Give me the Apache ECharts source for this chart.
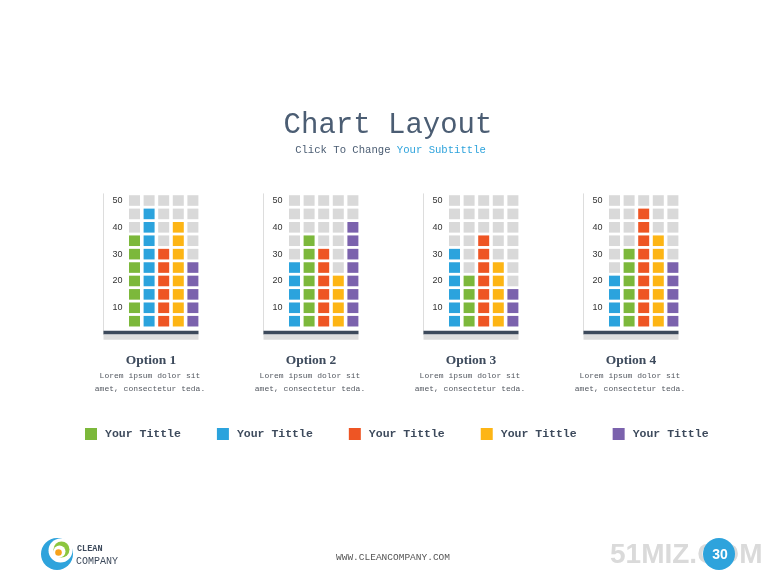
<!DOCTYPE html>
<html>
<head>
<meta charset="utf-8">
<script src="https://cdn.jsdelivr.net/npm/echarts@6/dist/echarts.min.js"></script>
<style>html,body{margin:0;padding:0;background:#fff;}#main{width:780px;height:585px;}</style>
</head>
<body>
<div id="main"></div>
<script>
// ---- data ----
const optionNames = ['Option 1', 'Option 2', 'Option 3', 'Option 4'];
const legendLabels = ['Your Tittle', 'Your Tittle', 'Your Tittle', 'Your Tittle', 'Your Tittle'];
const colorKeys = ['green', 'blue', 'red', 'yellow', 'purple'];
const greenValues = [35, 35, 20, 30];
const blueValues = [45, 25, 30, 20];
const redValues = [30, 30, 35, 45];
const yellowValues = [40, 20, 25, 35];
const purpleValues = [25, 40, 15, 25];
// column order per option (indices into colorKeys)
const columnOrder = [[0, 1, 2, 3, 4], [1, 0, 2, 3, 4], [1, 0, 2, 3, 4], [1, 0, 2, 3, 4]];
const cellStep = 5;
const axisMax = 50;
const yTickLabels = [10, 20, 30, 40, 50];
const descLine1 = 'Lorem ipsum dolor sit';
const descLine2 = 'amet, consectetur teda.';
const titleText = 'Chart Layout';
const subtitleA = 'Click To Change ';
const subtitleB = 'Your Subtittle';
const footerText = 'WWW.CLEANCOMPANY.COM';
const pageNumber = '30';

// ---- styles ----
const palette = ['#7cb83b', '#2ba3dd', '#ee5524', '#fdb515', '#7b62ad'];
const emptyColor = '#d9d9d9';
const valuesByColor = [greenValues, blueValues, redValues, yellowValues, purpleValues];

const grids = [], xAxes = [], yAxes = [], series = [], graphics = [];
optionNames.forEach((name, g) => {
  const left = 103.5 + 160 * g;
  grids.push({left: left, top: 193.8, width: 95, height: 140.8});
  xAxes.push({gridIndex: g, type: 'value', min: -1.123, max: 5.384, position: 'bottom', offset: -2,
    axisLine: {show: true, onZero: false, lineStyle: {color: '#3d4a5c', width: 3.4, cap: 'butt'}},
    axisTick: {show: false}, axisLabel: {show: false}, splitLine: {show: false}, z: 4});
  xAxes.push({gridIndex: g, type: 'value', min: -1.123, max: 5.384, position: 'bottom', offset: 2.6,
    axisLine: {show: true, onZero: false, lineStyle: {color: '#dedede', width: 5.7, cap: 'butt'}},
    axisTick: {show: false}, axisLabel: {show: false}, splitLine: {show: false}, z: 3});
  yAxes.push({gridIndex: g, type: 'value', min: 0, max: 52.5, interval: 10,
    axisLine: {show: true, onZero: false, lineStyle: {color: '#dddddd', width: 1}},
    axisTick: {show: false}, splitLine: {show: false},
    axisLabel: {inside: true, margin: 9, fontSize: 9, color: '#333', fontFamily: 'Liberation Sans',
      showMinLabel: false, showMaxLabel: false,
      formatter: v => (yTickLabels.indexOf(v) >= 0 ? String(v) : '')}});

  const empty = [];
  const colored = colorKeys.map(() => []);
  columnOrder[g].forEach((ci, c) => {
    const val = valuesByColor[ci][g];
    for (let v = cellStep; v <= axisMax; v += cellStep) {
      if (v <= val) colored[ci].push([c + 1, v]);
      else empty.push([c + 1, v]);
    }
  });
  series.push({type: 'scatter', name: 'empty', xAxisIndex: 2 * g, yAxisIndex: g, symbol: 'rect',
    symbolSize: [11, 10.6], itemStyle: {color: emptyColor, opacity: 1}, data: empty, silent: true, z: 2});
  colorKeys.forEach((key, ci) => {
    series.push({type: 'scatter', name: key, xAxisIndex: 2 * g, yAxisIndex: g, symbol: 'rect',
      symbolSize: [11, 10.6], itemStyle: {color: palette[ci], opacity: 1}, data: colored[ci], silent: true, z: 2});
  });

  graphics.push({type: 'text', x: 151 + 160 * g, y: 360.5, style: {text: name, fill: '#3d4a5c',
    fontFamily: 'Liberation Serif', fontWeight: 'bold', fontSize: 13.5, align: 'center', verticalAlign: 'middle'}});
  graphics.push({type: 'text', x: 150 + 160 * g, y: 375.5, style: {text: descLine1, fill: '#555a62',
    fontFamily: 'Liberation Mono', fontSize: 8, align: 'center', verticalAlign: 'middle'}});
  graphics.push({type: 'text', x: 150 + 160 * g, y: 389, style: {text: descLine2, fill: '#555a62',
    fontFamily: 'Liberation Mono', fontSize: 8, align: 'center', verticalAlign: 'middle'}});
});

// title
graphics.push({type: 'text', x: 388, y: 125, style: {text: titleText, fill: '#4b5d73',
  fontFamily: 'Liberation Mono', fontSize: 29, align: 'center', verticalAlign: 'middle'}});
graphics.push({type: 'text', x: 390.5, y: 150, style: {
  text: '{a|' + subtitleA + '}{b|' + subtitleB + '}',
  rich: {a: {fill: '#4b5d73', fontFamily: 'Liberation Mono', fontSize: 10.6},
         b: {fill: '#2ea3dc', fontFamily: 'Liberation Mono', fontSize: 10.6}},
  align: 'center', verticalAlign: 'middle'}});

// footer
graphics.push({type: 'text', x: 393, y: 557, style: {text: footerText, fill: '#555',
  fontFamily: 'Liberation Mono', fontSize: 9.5, align: 'center', verticalAlign: 'middle'}});
graphics.push({type: 'circle', shape: {cx: 57, cy: 554, r: 16}, style: {fill: '#2ea3dc'}});
graphics.push({type: 'circle', shape: {cx: 60.5, cy: 550.5, r: 12}, style: {fill: '#fff'}});
graphics.push({type: 'circle', shape: {cx: 61.5, cy: 549.5, r: 8}, style: {fill: '#8cc63f'}});
graphics.push({type: 'circle', shape: {cx: 59.5, cy: 551.5, r: 6}, style: {fill: '#fff'}});
graphics.push({type: 'circle', shape: {cx: 58.5, cy: 552.5, r: 3.3}, style: {fill: '#f7a21b'}});
graphics.push({type: 'text', x: 77, y: 549, style: {text: 'CLEAN', fill: '#3d4a5c',
  fontFamily: 'Liberation Mono', fontWeight: 'bold', fontSize: 8.5, align: 'left', verticalAlign: 'middle'}});
graphics.push({type: 'text', x: 76, y: 561, style: {text: 'COMPANY', fill: '#3d4a5c',
  fontFamily: 'Liberation Mono', fontSize: 10, align: 'left', verticalAlign: 'middle'}});
graphics.push({type: 'text', x: 610, y: 555.5, style: {text: '51MIZ.COM', fill: '#dadada',
  fontFamily: 'Liberation Sans', fontWeight: 'bold', fontSize: 28, align: 'left', verticalAlign: 'middle'}});
graphics.push({type: 'circle', shape: {cx: 719, cy: 554, r: 16}, style: {fill: '#2ea3dc'}});
graphics.push({type: 'text', x: 720, y: 555, style: {text: pageNumber, fill: '#fff',
  fontFamily: 'Liberation Sans', fontWeight: 'bold', fontSize: 14, align: 'center', verticalAlign: 'middle'}});

const chart = echarts.init(document.getElementById('main'), null, {renderer: 'canvas'});
chart.setOption({
  animation: false,
  backgroundColor: '#ffffff',
  grid: grids,
  xAxis: xAxes,
  yAxis: yAxes,
  legend: {left: 85, top: 428, padding: 0, itemWidth: 12, itemHeight: 12, itemGap: 36, icon: 'rect',
    selectedMode: false, data: colorKeys,
    formatter: name => legendLabels[colorKeys.indexOf(name)],
    itemStyle: {opacity: 1},
    textStyle: {fontFamily: 'Liberation Mono', fontWeight: 'bold', fontSize: 11.5, color: '#3d4a5c', padding: [0, 0, 0, 3]}},
  series: series,
  graphic: graphics
});
</script>
</body>
</html>
